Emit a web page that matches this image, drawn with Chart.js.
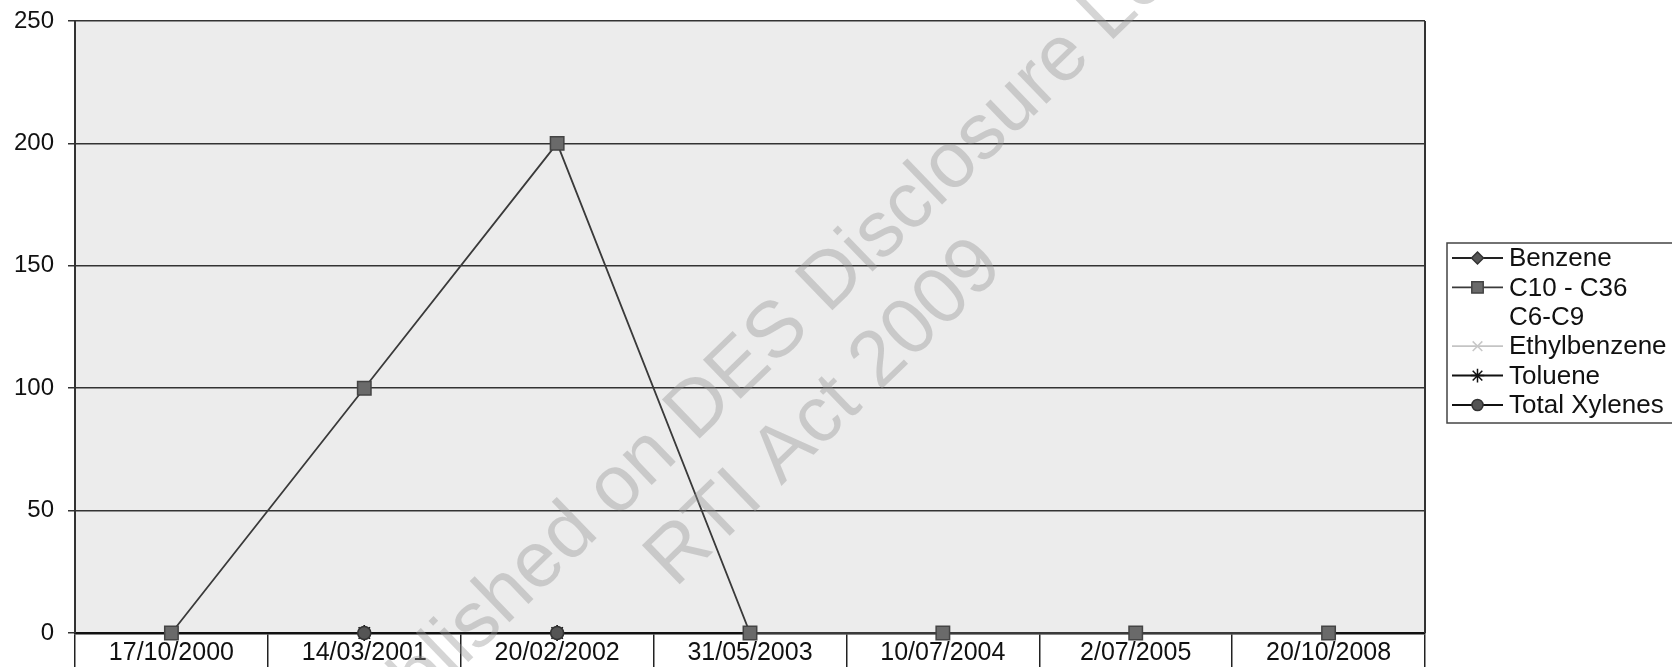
<!DOCTYPE html>
<html><head><meta charset="utf-8">
<script src="https://cdn.jsdelivr.net/npm/chart.js@4.4.0/dist/chart.umd.min.js"></script>
<style>html,body{margin:0;padding:0;background:#fff;overflow:hidden}#wrap{width:1672px;height:667px;position:relative}</style>
</head><body><div id="wrap"><canvas id="c" width="1672" height="667"></canvas></div>
<script>
const categories = ['17/10/2000','14/03/2001','20/02/2002','31/05/2003','10/07/2004','2/07/2005','20/10/2008'];
const seriesNames = ['Benzene','C10 - C36','C6-C9','Ethylbenzene','Toluene','Total Xylenes'];
const benzene      = [null, 0, 0, null, null, null, null];
const c10c36       = [0, 100, 200, 0, 0, 0, 0];
const c6c9         = [null, null, null, null, null, null, null];
const ethylbenzene = [null, 0, 0, null, null, null, null];
const toluene      = [null, 0, 0, null, null, null, null];
const totalXylenes = [null, 0, 0, null, null, null, null];
const yTicks = [0, 50, 100, 150, 200, 250];
const watermark1 = 'Published on DES Disclosure Log';
const watermark2 = 'RTI Act 2009';

const FONT = "'Liberation Sans', Arial, sans-serif";
const styles = [
  {line:'#222', lw:2,   marker:'rectRot', r:7, fill:'#555', stroke:'#333'},
  {line:'#3a3a3a', lw:1.8, marker:'rect', r:9.5, fill:'#6a6a6a', stroke:'#444'},
  {line:'rgba(0,0,0,0)', lw:0, marker:false, r:0, fill:'rgba(0,0,0,0)', stroke:'rgba(0,0,0,0)'},
  {line:'#c4c4c4', lw:1.8, marker:'crossRot', r:8, fill:'#ccc', stroke:'#c8c8c8'},
  {line:'#111', lw:2,   marker:'star', r:8, fill:'#111', stroke:'#111'},
  {line:'#111', lw:2,   marker:'circle', r:6.5, fill:'#555', stroke:'#333'}
];
const values = [benzene, c10c36, c6c9, ethylbenzene, toluene, totalXylenes];

const datasets = seriesNames.map((n,i)=>({
  label:n, data:values[i], borderColor:styles[i].line, borderWidth:styles[i].lw,
  pointStyle:styles[i].marker, pointRadius:styles[i].r, pointBackgroundColor:styles[i].fill,
  pointBorderColor:styles[i].stroke, pointBorderWidth:1.5, tension:0, clip:false, spanGaps:false,
  order: 6 - i
}));

function drawMarker(ctx, style, x, y, r, fill, stroke){
  ctx.save();
  ctx.fillStyle = fill; ctx.strokeStyle = stroke; ctx.lineWidth = 1.5;
  ctx.beginPath();
  if (style === 'rect') { const s = Math.SQRT1_2*r; ctx.rect(x-s,y-s,2*s,2*s); ctx.fill(); ctx.stroke(); }
  else if (style === 'rectRot') { ctx.moveTo(x,y-r); ctx.lineTo(x+r,y); ctx.lineTo(x,y+r); ctx.lineTo(x-r,y); ctx.closePath(); ctx.fill(); ctx.stroke(); }
  else if (style === 'circle') { ctx.arc(x,y,r,0,Math.PI*2); ctx.fill(); ctx.stroke(); }
  else if (style === 'crossRot' || style === 'star') {
    const d = r*Math.SQRT1_2;
    ctx.moveTo(x-d,y-d); ctx.lineTo(x+d,y+d); ctx.moveTo(x-d,y+d); ctx.lineTo(x+d,y-d);
    if (style === 'star') { ctx.moveTo(x,y-r); ctx.lineTo(x,y+r); ctx.moveTo(x-r,y); ctx.lineTo(x+r,y); }
    ctx.stroke();
  }
  ctx.restore();
}

const bgPlugin = {
  id:'bg',
  beforeDraw(chart){
    const {ctx, chartArea:a} = chart;
    ctx.save(); ctx.fillStyle = '#ececec'; ctx.fillRect(a.left,a.top,a.right-a.left,a.bottom-a.top); ctx.restore();
  },
  afterDatasetsDraw(chart){
    const {ctx, chartArea:a} = chart;
    ctx.save(); ctx.strokeStyle = '#333'; ctx.lineWidth = 2;
    ctx.beginPath(); ctx.moveTo(a.right, a.top); ctx.lineTo(a.right, a.bottom); ctx.stroke();
    ctx.restore();
  },
  afterDraw(chart){
    const ctx = chart.ctx;
    // legend
    const lx = 1447, ly = 243, lh = 180, rowH = 29.4, y0 = 258;
    ctx.save();
    ctx.strokeStyle = '#444'; ctx.lineWidth = 1.5;
    ctx.strokeRect(lx, ly, 400, lh);
    ctx.font = '26px ' + FONT; ctx.textBaseline = 'middle'; ctx.fillStyle = '#111';
    seriesNames.forEach((n,i)=>{
      const y = y0 + i*rowH, s = styles[i];
      if (s.lw > 0) { ctx.strokeStyle = s.line; ctx.lineWidth = s.lw; ctx.beginPath(); ctx.moveTo(1452,y); ctx.lineTo(1503,y); ctx.stroke(); }
      if (s.marker) drawMarker(ctx, s.marker, 1477.5, y, s.r*0.85, s.fill, s.stroke);
      ctx.fillStyle = '#111';
      ctx.fillText(n, 1509, y + 1);
    });
    ctx.restore();
    // watermark
    ctx.save();
    ctx.fillStyle = 'rgba(150,150,150,0.4)';
    ctx.font = '79px ' + FONT; ctx.textAlign = 'center'; ctx.textBaseline = 'middle';
    ctx.translate(762, 348); ctx.rotate(-44*Math.PI/180);
    ctx.fillText(watermark1, 0, 0);
    ctx.fillText(watermark2, 0, 91);
    ctx.restore();
  }
};

new Chart(document.getElementById('c'), {
  type:'line',
  data:{ labels:categories, datasets },
  options:{
    responsive:false, animation:false, devicePixelRatio:1,
    layout:{ padding:{ top:21, right:247, left:0, bottom:0 } },
    plugins:{ legend:{display:false}, tooltip:{enabled:false} },
    scales:{
      x:{
        offset:true,
        grid:{ offset:true, drawOnChartArea:false, drawTicks:true, tickLength:34, color:'#222', lineWidth:1.5 },
        border:{ display:true, color:'#111', width:2.5 },
        ticks:{ font:{ size:25, family:FONT }, color:'#111', padding:-29, maxRotation:0, autoSkip:false },
        afterFit(s){ s.height = 34; s.paddingLeft = 0; s.paddingRight = 0; }
      },
      y:{
        min:0, max:250,
        afterBuildTicks(s){ s.ticks = yTicks.map(v=>({value:v})); },
        grid:{ color:'#333', lineWidth:1.5, drawTicks:true, tickLength:7 },
        border:{ display:true, color:'#333', width:2 },
        ticks:{ font:{ size:24, family:FONT }, color:'#111', padding:14 },
        afterFit(s){ s.width = 75; s.paddingTop = 0; s.paddingBottom = 0; }
      }
    }
  },
  plugins:[bgPlugin]
});
</script></body></html>
